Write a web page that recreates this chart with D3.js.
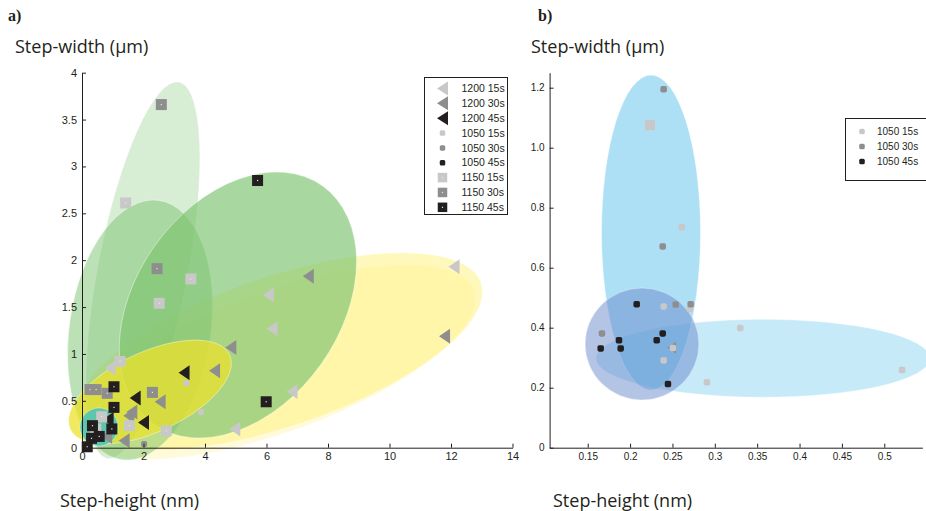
<!DOCTYPE html>
<html><head><meta charset="utf-8">
<script src="https://cdn.jsdelivr.net/npm/d3@7"></script>
<style>
  body { margin: 0; background: #fff; }
  svg { display: block; }
</style>
</head><body>
<svg id="fig" width="926" height="511"></svg>
<script>
// ---------- Panel a: step-height (nm) vs step-width (µm) ----------
const a1200_15 = [[0.91,0.85],[4.97,0.20],[6.83,0.60],[6.18,1.27],[6.06,1.63],[12.10,1.93]];
const a1200_30 = [[1.37,0.075],[0.80,0.12],[1.52,0.34],[1.62,0.38],[2.54,0.49],[4.31,0.82],[4.84,1.07],[7.36,1.83],[11.79,1.19]];
const a1200_45 = [[0.85,0.30],[1.73,0.53],[2.00,0.27],[3.32,0.80]];
const a1050_15 = [[3.39,0.69],[3.87,0.38]];
const a1050_30 = [[2.02,0.04]];
const a1050_45 = [];
const a1150_15 = [[1.42,2.61],[2.51,1.54],[3.54,1.80],[1.24,0.92],[0.45,0.20],[0.64,0.33],[1.54,0.235],[2.74,0.18]];
const a1150_30 = [[2.58,3.66],[2.44,1.91],[0.26,0.62],[0.46,0.62],[0.82,0.58],[2.29,0.59]];
const a1150_45 = [[5.71,2.85],[5.99,0.49],[1.04,0.65],[1.04,0.43],[0.34,0.235],[0.97,0.20],[0.31,0.10],[0.56,0.12],[0.17,0.01]];

// spread regions: [centre, end of first semi-axis, end of second semi-axis] in data units
const aYellowWide  = [[6.34,0.914],[12.76,1.680],[7.12,0.212]];
const aYellow      = [[6.42,1.026],[12.98,1.758],[7.21,0.269]];
const aGreenPale   = [[1.98,1.893],[3.15,3.900],[3.42,1.807]];
const aGreenLight  = [[1.89,1.255],[2.50,2.638],[4.17,1.147]];
const aGreenMid    = [[5.07,1.522],[7.82,2.793],[7.78,0.893]];
const aYellowGreen = [[2.21,0.594],[4.80,0.991],[2.76,0.208]];
const aCyan        = [[0.553,0.221],[1.171,0.221],[0.553,0.018]];

const aXTicks = [0,2,4,6,8,10,12,14];
const aYTicks = [0,0.5,1,1.5,2,2.5,3,3.5,4];
const aLegend = ["1200 15s","1200 30s","1200 45s","1050 15s","1050 30s","1050 45s","1150 15s","1150 30s","1150 45s"];

// ---------- Panel b ----------
const b1050_15 = [[0.261,0.735],[0.2396,0.471],[0.2705,0.462],[0.2396,0.291],[0.2907,0.218],[0.330,0.399],[0.521,0.259]];
const b1050_30 = [[0.2396,1.195],[0.2385,0.671],[0.2538,0.477],[0.2715,0.478],[0.1668,0.381]];
const b1050_45 = [[0.2078,0.478],[0.1869,0.358],[0.1653,0.331],[0.1889,0.331],[0.2385,0.381],[0.2314,0.358],[0.2447,0.212]];
const b1150_15 = [[0.2235,1.075]];
const b1200_30 = [[0.249,0.333]];
const b1050_15b = [[0.2505,0.332]];

const bTall   = [[0.2247,0.717],[0.2247,1.242],[0.2831,0.717]];
const bFlat   = [[0.3568,0.298],[0.5539,0.298],[0.3568,0.428]];
const bCircle = [[0.2141,0.3457],[0.2813,0.3457],[0.2141,0.5323]];

const bXTicks = [0.15,0.2,0.25,0.3,0.35,0.4,0.45,0.5];
const bYTicks = [0,0.2,0.4,0.6,0.8,1.0,1.2];
const bLegend = ["1050 15s","1050 30s","1050 45s"];

// ---------- styling ----------
const INK = "#231f20";
const GREY = { light: "#c8c8c8", mid: "#8e8e8f", dark: INK };
const tickFont = "'Liberation Sans Narrow','Liberation Sans',Arial,sans-serif";
const labelFont = "'Open Sans','Noto Sans',sans-serif";

const svg = d3.select("#fig");

// scales
const ax = d3.scaleLinear().domain([0,14]).range([82,512.5]);
const ay = d3.scaleLinear().domain([0,4]).range([447.7,72.7]);
const bx = d3.scaleLinear().domain([0.105,0.545]).range([549.6,922.4]);
const by = d3.scaleLinear().domain([0,1.25]).range([447.7,72.7]);

function region(g, x, y, r, fill, op) {
  const [c, m, n] = r;
  const cx = x(c[0]), cy = y(c[1]);
  const vx = x(m[0]) - cx, vy = y(m[1]) - cy;
  const wx = x(n[0]) - cx, wy = y(n[1]) - cy;
  const rx = Math.hypot(vx, vy), ry = Math.hypot(wx, wy);
  const ang = Math.atan2(vy, vx) * 180 / Math.PI;
  g.append("ellipse")
    .attr("transform", `translate(${cx},${cy}) rotate(${ang})`)
    .attr("rx", rx).attr("ry", ry)
    .attr("fill", fill).attr("fill-opacity", op)
    .attr("stroke", "#fff").attr("stroke-opacity", 0.55).attr("stroke-width", 0.7);
}

// marker drawing
function tri(g, px, py, col, w, h) {
  g.append("path")
    .attr("d", `M${px - w/2},${py} L${px + w/2},${py - h/2} L${px + w/2},${py + h/2} Z`)
    .attr("fill", col);
}
function smallSq(g, px, py, col, s) {
  g.append("rect").attr("x", px - s/2).attr("y", py - s/2)
    .attr("width", s).attr("height", s).attr("rx", s * 0.28).attr("fill", col);
}
function bigSq(g, px, py, col, s, dot) {
  g.append("rect").attr("x", px - s/2).attr("y", py - s/2)
    .attr("width", s).attr("height", s).attr("fill", col);
  if (dot) g.append("rect").attr("x", px - 0.6).attr("y", py - 0.6)
    .attr("width", 1.2).attr("height", 1.2).attr("fill", "#e4efc0");
}

function axes(g, x, y, xt, yt, yfmt, fs) {
  const xa = d3.axisBottom(x).tickValues(xt).tickSizeInner(-4).tickSizeOuter(0).tickPadding(5)
    .tickFormat(d3.format(""));
  const ya = d3.axisLeft(y).tickValues(yt).tickSizeInner(-4).tickSizeOuter(0).tickPadding(5)
    .tickFormat(yfmt);
  const gx = g.append("g").attr("transform", `translate(0,${y.range()[0]})`).call(xa);
  const gy = g.append("g").attr("transform", `translate(${x.range()[0]},0)`).call(ya);
  [gx, gy].forEach(s => {
    s.selectAll("path,line").attr("stroke", INK).attr("stroke-width", 1);
    s.selectAll("text").attr("fill", INK).style("font-family", tickFont).style("font-size", fs + "px");
  });
}

// ===== Panel a =====
const ga = svg.append("g");
region(ga, ax, ay, aYellowWide, "#fff3a0", 0.4);
region(ga, ax, ay, aYellow, "#fff27a", 0.5);
region(ga, ax, ay, aGreenPale, "#7cc36f", 0.3);
region(ga, ax, ay, aGreenLight, "#7cc36f", 0.5);
region(ga, ax, ay, aGreenMid, "#7cc36f", 0.66);
region(ga, ax, ay, aYellowGreen, "#ece22c", 0.75);
region(ga, ax, ay, aCyan, "#3fbfc4", 0.8);

const gam = ga.append("g");
a1200_15.forEach(d => tri(gam, ax(d[0]), ay(d[1]), GREY.light, 11, 15));
a1200_30.forEach(d => tri(gam, ax(d[0]), ay(d[1]), GREY.mid, 11, 15));
a1200_45.forEach(d => tri(gam, ax(d[0]), ay(d[1]), GREY.dark, 11, 15));
a1050_15.forEach(d => smallSq(gam, ax(d[0]), ay(d[1]), GREY.light, 6));
a1050_30.forEach(d => smallSq(gam, ax(d[0]), ay(d[1]), GREY.mid, 6));
a1050_45.forEach(d => smallSq(gam, ax(d[0]), ay(d[1]), GREY.dark, 6));
a1150_15.forEach(d => bigSq(gam, ax(d[0]), ay(d[1]), GREY.light, 11, true));
a1150_30.forEach(d => bigSq(gam, ax(d[0]), ay(d[1]), GREY.mid, 11, true));
a1150_45.forEach(d => bigSq(gam, ax(d[0]), ay(d[1]), GREY.dark, 11, true));

axes(ga, ax, ay, aXTicks, aYTicks, d3.format(""), 11);

// legend a
const lga = ga.append("g");
lga.append("rect").attr("x", 424.5).attr("y", 77.5).attr("width", 83).attr("height", 137)
  .attr("fill", "#fff").attr("stroke", INK).attr("stroke-width", 1);
aLegend.forEach((lab, i) => {
  const yy = 88.5 + i * 14.85, xx = 442.5;
  const shade = [GREY.light, GREY.mid, GREY.dark][i % 3];
  if (i < 3) tri(lga, xx, yy, shade, 11, 14);
  else if (i < 6) smallSq(lga, xx, yy, shade, 5.5);
  else bigSq(lga, xx, yy, shade, 9.5, true);
  lga.append("text").attr("x", 461.5).attr("y", yy).attr("dy", "0.35em")
    .attr("fill", INK).style("font-family", tickFont).style("font-size", "10.5px").text(lab);
});

// ===== Panel b =====
const gb = svg.append("g");
region(gb, bx, by, bFlat, "#5bc0eb", 0.34);
region(gb, bx, by, bTall, "#5bc0eb", 0.5);
region(gb, bx, by, bCircle, "#6a89cc", 0.5);

const gbm = gb.append("g");
b1150_15.forEach(d => bigSq(gbm, bx(d[0]), by(d[1]), GREY.light, 10, false));
b1200_30.forEach(d => tri(gbm, bx(d[0]), by(d[1]), GREY.mid, 9, 12));
b1050_15.forEach(d => smallSq(gbm, bx(d[0]), by(d[1]), GREY.light, 6.5));
b1050_30.forEach(d => smallSq(gbm, bx(d[0]), by(d[1]), GREY.mid, 6.5));
b1050_45.forEach(d => smallSq(gbm, bx(d[0]), by(d[1]), GREY.dark, 6.5));
b1050_15b.forEach(d => smallSq(gbm, bx(d[0]), by(d[1]), GREY.light, 6.5));

axes(gb, bx, by, bXTicks, bYTicks, v => v === 0 ? "0" : d3.format(".1f")(v), 10);

// legend b
const lgb = gb.append("g");
lgb.append("rect").attr("x", 845.5).attr("y", 118.5).attr("width", 90).attr("height", 62)
  .attr("fill", "#fff").attr("stroke", INK).attr("stroke-width", 1);
bLegend.forEach((lab, i) => {
  const yy = 131.5 + i * 15, xx = 862;
  smallSq(lgb, xx, yy, [GREY.light, GREY.mid, GREY.dark][i], 5.5);
  lgb.append("text").attr("x", 877).attr("y", yy).attr("dy", "0.35em")
    .attr("fill", INK).style("font-family", tickFont).style("font-size", "10px").text(lab);
});

// ===== titles and axis captions =====
const cap = (x, y, t) => svg.append("text").attr("x", x).attr("y", y).attr("fill", INK)
  .style("font-family", labelFont).style("font-size", "18px").text(t);
const tag = (x, y, t) => svg.append("text").attr("x", x).attr("y", y).attr("fill", INK)
  .style("font-family", "'Liberation Serif','DejaVu Serif',serif").style("font-weight", "bold")
  .style("font-size", "16px").text(t);

tag(8, 21, "a)");
tag(538, 21, "b)");
cap(15, 53, "Step-width (\u00b5m)");
cap(60, 507, "Step-height (nm)");
cap(531, 53, "Step-width (\u00b5m)");
cap(553, 507, "Step-height (nm)");
</script>
</body></html>
